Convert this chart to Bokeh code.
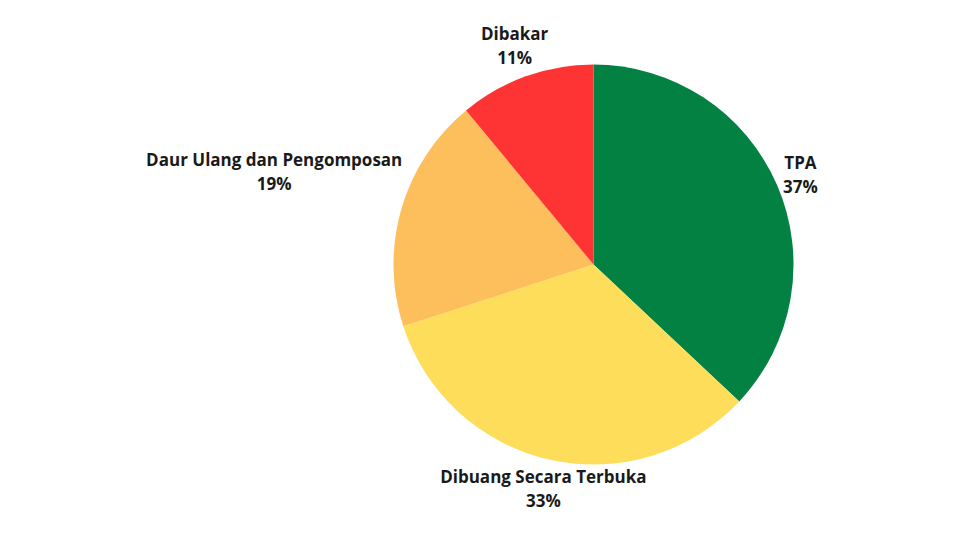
import math
from bokeh.plotting import figure
from bokeh.models import Range1d, ColumnDataSource
from bokeh.core.properties import value
from bokeh.embed import file_html
from bokeh.resources import INLINE

categories = ["TPA", "Dibuang Secara Terbuka", "Daur Ulang dan Pengomposan", "Dibakar"]
percents = [37, 33, 19, 11]
colors = ["#028143", "#FEDD5B", "#FDBE5C", "#FE3333"]

W, H = 944, 524
CX, CY, R = 601, 268, 200
FONT = "Open Sans"
FS = 17
LINE = 24
CHAR_W = 9.9
HALF_H = 20
PAD = 4

p = figure(width=W, height=H, output_backend="svg", toolbar_location=None,
           x_range=Range1d(8, 8 + W), y_range=Range1d(8, 8 + H),
           min_border=0, outline_line_color=None)
p.axis.visible = False
p.grid.visible = False
p.background_fill_color = "white"
p.border_fill_color = "white"

total = sum(percents)
starts, ends, mids = [], [], []
cum = 0
for v in percents:
    a0 = math.pi / 2 - 2 * math.pi * cum / total
    cum += v
    a1 = math.pi / 2 - 2 * math.pi * cum / total
    starts.append(a0)
    ends.append(a1)
    mids.append((a0 + a1) / 2)

src = ColumnDataSource(dict(start=starts, end=ends, color=colors))
p.wedge(x=CX, y=CY, radius=R, start_angle="start", end_angle="end",
        direction="clock", fill_color="color", line_color=None, source=src)

# label placement: centre on the mid-angle ray, pushed out until box clears circle
lx, ly1, ly2, t1, t2 = [], [], [], [], []
for name, v, m in zip(categories, percents, mids):
    hw = len(name) * CHAR_W / 2
    ux, uy = math.cos(m), math.sin(m)
    d = R
    while True:
        bx, by = d * ux, d * uy
        nx = max(abs(bx) - hw, 0)
        ny = max(abs(by) - HALF_H, 0)
        if math.hypot(nx, ny) >= R + PAD:
            break
        d += 0.5
    cx, cy = CX + d * ux, CY + d * uy
    lx.append(cx)
    ly1.append(cy + LINE / 2)
    ly2.append(cy - LINE / 2)
    t1.append(name)
    t2.append(f"{v}%")

lsrc = ColumnDataSource(dict(x=lx, y1=ly1, y2=ly2, t1=t1, t2=t2))
for ycol, tcol in (("y1", "t1"), ("y2", "t2")):
    p.text(x="x", y=ycol, text=tcol, source=lsrc, text_align="center",
           text_baseline="middle", text_font=value(FONT), text_font_style="bold",
           text_font_size=f"{FS}px", text_color="#1a1a1a")

open("out.html", "w").write(file_html(p, INLINE))
